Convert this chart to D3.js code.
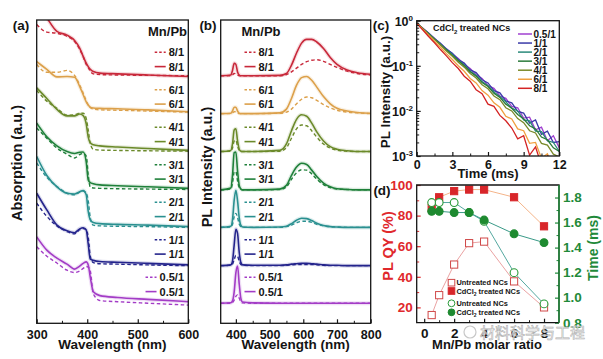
<!DOCTYPE html>
<html>
<head>
<meta charset="utf-8">
<script src="https://cdn.jsdelivr.net/npm/d3@7/dist/d3.min.js"></script>
<style>
body { margin: 0; background: #fff; }
svg { display: block; }
</style>
</head>
<body>
<script>
// ---- data ----
var ratios = ['0.5/1', '1/1', '2/1', '3/1', '4/1', '6/1', '8/1'];
var colors = ['#a33cc6', '#24248c', '#2a9090', '#1f803a', '#6b8a2a', '#dca04a', '#c8283a'];
var decayColors = ['#a040d0', '#3a3aa8', '#2a8a7a', '#2a7a3a', '#7a8a2a', '#f0a040', '#d42424'];

// (a) absorption, a.u. above each curve's own baseline
var absWl = [300, 320, 340, 360, 375, 385, 392, 398, 402, 406, 412, 425, 460, 520, 600];
var absTreated = [
  [1.71, 1.36, 1.15, 0.99, 0.86, 0.94, 1.01, 1.05, 0.97, 0.65, 0.26, 0.16, 0.11, 0.06, 0],
  [1.89, 1.45, 1.05, 0.90, 0.85, 0.95, 0.98, 0.92, 0.55, 0.15, 0.12, 0.09, 0.07, 0.04, 0],
  [1.85, 1.35, 1.05, 0.88, 0.86, 0.92, 0.95, 0.84, 0.40, 0.18, 0.11, 0.08, 0.06, 0.04, 0],
  [1.72, 1.36, 1.12, 0.97, 0.92, 0.95, 0.96, 0.70, 0.22, 0.15, 0.12, 0.09, 0.07, 0.04, 0],
  [1.65, 1.37, 1.08, 0.91, 0.91, 0.96, 0.92, 0.70, 0.35, 0.20, 0.15, 0.12, 0.09, 0.05, 0],
  [1.32, 1.12, 0.92, 0.93, 0.91, 0.67, 0.45, 0.26, 0.18, 0.12, 0.10, 0.09, 0.08, 0.05, 0],
  [1.95, 1.55, 1.19, 1.09, 0.95, 0.75, 0.53, 0.35, 0.26, 0.19, 0.13, 0.09, 0.07, 0.04, 0]
];
var absUntreated = [
  [1.54, 1.29, 1.11, 0.92, 0.86, 0.90, 0.97, 1.02, 1.00, 0.90, 0.30, 0.12, 0.09, 0.05, 0],
  [1.65, 1.30, 1.05, 0.90, 0.84, 0.95, 0.98, 0.95, 0.75, 0.25, 0.08, 0.05, 0.04, 0.02, 0],
  [1.70, 1.32, 1.08, 0.90, 0.86, 0.93, 0.96, 0.90, 0.70, 0.25, 0.06, 0.04, 0.03, 0.02, 0],
  [1.62, 1.35, 1.09, 0.93, 0.83, 0.92, 0.95, 0.88, 0.38, 0.06, 0.04, 0.03, 0.02, 0.01, 0],
  [1.60, 1.32, 1.13, 0.95, 0.96, 1.00, 1.00, 0.86, 0.55, 0.20, 0.05, 0.03, 0.02, 0.01, 0],
  [1.26, 1.05, 1.05, 1.10, 0.97, 0.72, 0.50, 0.30, 0.18, 0.12, 0.08, 0.06, 0.05, 0.03, 0],
  [1.35, 1.15, 1.12, 1.04, 0.90, 0.70, 0.50, 0.30, 0.22, 0.12, 0.05, 0.03, 0.02, 0.01, 0]
];
var absOffsetTreated = [0.57, 1.54, 2.55, 3.56, 4.56, 5.58, 6.51];
var absOffsetUntreated = [0.48, 1.52, 2.53, 3.53, 4.54, 5.57, 6.53];

// (b) PL spectra
var plWl = [355, 385, 390, 395, 400, 405, 410, 415, 420, 450, 530, 550, 565, 580, 595, 610, 625, 640, 660, 680, 700, 730, 760, 800];
var plTreated = [
  [0, 0.01, 0.06, 0.30, 0.80, 0.98, 0.50, 0.12, 0.03, 0.01, 0, 0, 0, 0, 0, 0, 0, 0, 0, 0, 0, 0, 0, 0],
  [0, 0.02, 0.12, 0.55, 0.96, 0.85, 0.35, 0.08, 0.02, 0.01, 0.01, 0.02, 0.04, 0.05, 0.06, 0.06, 0.05, 0.04, 0.02, 0.01, 0.01, 0, 0, 0],
  [0, 0.03, 0.20, 0.72, 0.98, 0.70, 0.25, 0.05, 0.01, 0, 0.01, 0.03, 0.10, 0.19, 0.24, 0.23, 0.18, 0.11, 0.05, 0.02, 0.01, 0, 0, 0],
  [0, 0.05, 0.38, 0.98, 1.00, 0.50, 0.12, 0.02, 0, 0, 0.02, 0.12, 0.38, 0.60, 0.70, 0.67, 0.52, 0.35, 0.18, 0.08, 0.03, 0.01, 0, 0],
  [0, 0.03, 0.20, 0.57, 0.60, 0.28, 0.06, 0.01, 0, 0, 0.03, 0.20, 0.55, 0.85, 0.97, 0.93, 0.75, 0.52, 0.28, 0.13, 0.06, 0.02, 0, 0],
  [0, 0.01, 0.07, 0.17, 0.17, 0.07, 0.01, 0, 0, 0, 0.02, 0.12, 0.40, 0.75, 0.95, 0.98, 0.88, 0.70, 0.45, 0.26, 0.14, 0.07, 0.03, 0.01],
  [0, 0.02, 0.14, 0.33, 0.30, 0.10, 0.02, 0, 0, 0, 0.01, 0.06, 0.28, 0.60, 0.86, 0.96, 0.96, 0.89, 0.72, 0.48, 0.30, 0.15, 0.08, 0.04]
];
var plUntreated = [
  [0, 0, 0.02, 0.08, 0.18, 0.22, 0.13, 0.04, 0.01, 0, 0, 0, 0, 0, 0, 0, 0, 0, 0, 0, 0, 0, 0, 0],
  [0, 0.01, 0.04, 0.16, 0.27, 0.25, 0.11, 0.03, 0.01, 0, 0, 0.01, 0.02, 0.03, 0.03, 0.03, 0.03, 0.02, 0.01, 0, 0, 0, 0, 0],
  [0, 0.01, 0.08, 0.28, 0.37, 0.26, 0.09, 0.02, 0, 0, 0, 0.02, 0.06, 0.12, 0.16, 0.16, 0.13, 0.08, 0.04, 0.02, 0.01, 0, 0, 0],
  [0, 0.02, 0.18, 0.47, 0.48, 0.24, 0.06, 0.01, 0, 0, 0.01, 0.08, 0.28, 0.45, 0.53, 0.52, 0.42, 0.28, 0.14, 0.06, 0.02, 0.01, 0, 0],
  [0, 0.01, 0.10, 0.28, 0.30, 0.14, 0.03, 0, 0, 0, 0.01, 0.10, 0.35, 0.60, 0.70, 0.68, 0.55, 0.38, 0.20, 0.09, 0.04, 0.01, 0, 0],
  [0, 0, 0.02, 0.05, 0.05, 0.02, 0, 0, 0, 0, 0.01, 0.04, 0.12, 0.26, 0.38, 0.44, 0.42, 0.35, 0.24, 0.15, 0.09, 0.04, 0.02, 0],
  [0, 0, 0.02, 0.06, 0.05, 0.02, 0, 0, 0, 0, 0, 0.03, 0.10, 0.20, 0.30, 0.37, 0.41, 0.42, 0.38, 0.30, 0.22, 0.12, 0.06, 0.02]
];
var plOffset = [0.53, 1.52, 2.53, 3.52, 4.53, 5.53, 6.53];

// (c) PL decay, log10 of intensity
var decayTime = [0, 0.5, 1, 1.5, 2, 2.5, 3, 3.5, 4, 4.5, 5, 5.5, 6, 6.5, 7, 7.5, 8, 8.5, 9, 9.5, 10, 10.5, 11, 11.5, 12];
var decayLog = [
  [-0.05, -0.16, -0.28, -0.39, -0.51, -0.62, -0.74, -0.84, -0.97, -1.06, -1.20, -1.28, -1.44, -1.50, -1.67, -1.72, -1.90, -1.93, -2.16, -2.14, -2.42, -2.36, -2.66, -2.55, -2.82],
  [-0.05, -0.17, -0.27, -0.40, -0.50, -0.63, -0.72, -0.86, -0.94, -1.09, -1.15, -1.31, -1.38, -1.55, -1.60, -1.78, -1.82, -2.01, -2.05, -2.27, -2.20, -2.52, -2.45, -2.70, -2.68],
  [-0.05, -0.17, -0.29, -0.40, -0.52, -0.64, -0.75, -0.88, -0.98, -1.12, -1.21, -1.35, -1.44, -1.58, -1.68, -1.80, -1.94, -2.00, -2.20, -2.22, -2.45, -2.46, -2.66, -2.70, -2.90],
  [-0.05, -0.17, -0.29, -0.41, -0.53, -0.65, -0.77, -0.89, -1.00, -1.13, -1.23, -1.37, -1.46, -1.61, -1.70, -1.85, -1.94, -2.08, -2.18, -2.33, -2.40, -2.58, -2.64, -2.82, -2.90],
  [-0.05, -0.17, -0.30, -0.42, -0.54, -0.67, -0.79, -0.92, -1.03, -1.17, -1.27, -1.42, -1.51, -1.67, -1.75, -1.93, -2.00, -2.17, -2.26, -2.44, -2.49, -2.72, -2.76, -2.96, -3.02],
  [-0.05, -0.19, -0.32, -0.46, -0.59, -0.73, -0.86, -1.00, -1.12, -1.28, -1.38, -1.55, -1.65, -1.82, -1.92, -2.12, -2.18, -2.40, -2.44, -2.72, -2.70, -3.05, -2.95, -3.25, -3.15],
  [-0.06, -0.20, -0.35, -0.49, -0.64, -0.78, -0.93, -1.06, -1.23, -1.34, -1.53, -1.62, -1.85, -1.90, -2.10, -2.22, -2.38, -2.62, -2.55, -2.98, -2.80, -3.20, -3.00, -3.30, -3.10]
];

// (d) QY and lifetime vs Mn/Pb
var molarRatio = [0.5, 1, 2, 3, 4, 6, 8];
var qyUntreated = [15, 28, 48, 62, 63, 37, 20];
var qyTreated = [85, 92, 96, 97, 97, 92, 73];
var tauUntreated = [1.76, 1.76, 1.76, 1.68, 1.61, 1.20, 0.95];
var tauTreated = [1.69, 1.69, 1.68, 1.68, 1.62, 1.51, 1.44];

// ---- drawing ----
var FONT = '"Liberation Sans", Arial, Helvetica, sans-serif',
    INK = '#141414',
    RED = '#e0282c',
    GREEN = '#1f8a3a';

var svg = d3.select('body').append('svg')
    .attr('width', 603).attr('height', 359)
    .style('font-family', FONT).style('font-weight', 'bold');
var defs = svg.append('defs');

function clipTo(id, x0, y0, x1, y1){
    defs.append('clipPath').attr('id', id).append('rect')
        .attr('x', x0).attr('y', y0).attr('width', x1 - x0).attr('height', y1 - y0);
    return 'url(#' + id + ')';
}

function box(x0, y0, x1, y1){
    svg.append('rect').attr('x', x0).attr('y', y0)
        .attr('width', x1 - x0).attr('height', y1 - y0)
        .attr('fill', 'none').attr('stroke', INK).attr('stroke-width', 1.3);
}

// inward ticks: major with labels, minor bare
function axis(gen, scale, at, major, minor, opt){
    opt = opt || {};
    var g = svg.append('g').attr('transform', at).style('color', opt.color || INK);
    g.append('g').call(gen(scale).tickValues(major).tickSize(-4)
            .tickPadding(opt.pad || 6).tickFormat(opt.format || null))
        .call(function(a){
            a.select('.domain').remove();
            a.selectAll('line').attr('stroke-width', 1.2);
            a.selectAll('text').style('font-family', FONT).style('font-weight', 'bold')
                .style('font-size', (opt.size || 12.5) + 'px').attr('fill', opt.color || INK);
            if(opt.noText) a.selectAll('text').remove();
        });
    if(minor){
        g.append('g').call(gen(scale).tickValues(minor).tickSize(-2.5).tickFormat(''))
            .call(function(a){ a.select('.domain').remove(); a.selectAll('line').attr('stroke-width', 1); });
    }
    return g;
}

function label(txt, x, y, size, opt){
    opt = opt || {};
    var t = svg.append('text').attr('x', x).attr('y', y)
        .attr('font-size', size).attr('fill', opt.color || INK)
        .attr('text-anchor', opt.anchor || 'middle').text(txt);
    if(opt.rotate) t.attr('transform', 'rotate(-90,' + x + ',' + y + ')');
    return t;
}

function stackPanel(xDomain, left, right, wl, treated, untreated, offT, offU, id){
    var x = d3.scaleLinear().domain(xDomain).range([left, right]),
        y = d3.scaleLinear().domain([0, 8]).range([323.3, 20]),
        clip = clipTo(id, left, 20, right, 323.3);
    var g = svg.append('g').attr('clip-path', clip);

    function curve(vals, off){
        return d3.line().curve(d3.curveMonotoneX)
            .x(function(d, i){ return x(wl[i]); })
            .y(function(d){ return y(d + off); })(vals);
    }
    ratios.forEach(function(r, i){
        g.append('path').attr('d', curve(treated[i], offT[i]))
            .attr('fill', 'none').attr('stroke', colors[i])
            .attr('stroke-width', 4).attr('stroke-opacity', 0.16);
        g.append('path').attr('d', curve(untreated[i], offU[i]))
            .attr('fill', 'none').attr('stroke', colors[i])
            .attr('stroke-width', 1.4).attr('stroke-dasharray', '3.5,2.5');
        g.append('path').attr('d', curve(treated[i], offT[i]))
            .attr('fill', 'none').attr('stroke', colors[i]).attr('stroke-width', 1.6);
    });
    return x;
}

// legend rows shared by (a) and (b), top entry is 8/1
function legendRows(xText, anchor){
    ratios.slice().reverse().forEach(function(r, k){
        var i = ratios.length - 1 - k,
            yd = 52.3 + k * 37.5;
        [yd, yd + 14.3].forEach(function(yy, j){
            var t = label(r, xText, yy + 4, 11, {anchor: anchor}),
                w = t.node().getComputedTextLength(),
                x0 = anchor === 'end' ? xText - w : xText;
            svg.append('line').attr('x1', x0 - 14).attr('x2', x0 - 3)
                .attr('y1', yy).attr('y2', yy)
                .attr('stroke', colors[i]).attr('stroke-width', j ? 1.6 : 1.4)
                .attr('stroke-dasharray', j ? null : '2.5,2');
        });
    });
}

// (a)
var xa = stackPanel([300, 600], 36.7, 188.3, absWl, absTreated, absUntreated,
    absOffsetTreated, absOffsetUntreated, 'clipA');
axis(d3.axisBottom, xa, 'translate(0,323.3)', [300, 400, 500, 600], [350, 450, 550], {pad: 7});
box(36.7, 20, 188.3, 323.3);
label('(a)', 21, 30, 13.5);
label('Mn/Pb', 187, 36, 13, {anchor: 'end'});
legendRows(184, 'end');
label('Wavelength (nm)', 112.5, 349, 13.5);
label('Absorption (a.u.)', 22, 163, 14.5, {rotate: true});

// (b)
var xb = stackPanel([355, 800], 220.7, 370.7, plWl, plTreated, plUntreated,
    plOffset, plOffset, 'clipB');
axis(d3.axisBottom, xb, 'translate(0,323.3)', [400, 500, 600, 700, 800], [450, 550, 650, 750], {pad: 7});
box(220.7, 20, 370.7, 323.3);
label('(b)', 208, 30, 13.5);
label('Mn/Pb', 241.5, 36, 13, {anchor: 'start'});
legendRows(258.5, 'start');
label('Wavelength (nm)', 295.7, 349, 13.5);
label('PL Intensity (a.u.)', 211.5, 167, 14.5, {rotate: true});

// (c)
var xc = d3.scaleLinear().domain([0, 12]).range([416.7, 559.3]),
    yc = d3.scaleLog().domain([1e-3, 1]).range([156, 20.7]);
var gc = svg.append('g').attr('clip-path', clipTo('clipC', 416.7, 20.7, 559.3, 156));
decayLog.forEach(function(series, i){
    gc.append('path')
        .attr('d', d3.line()
            .x(function(d, k){ return xc(decayTime[k]); })
            .y(function(d){ return yc(Math.pow(10, d)); })(series))
        .attr('fill', 'none').attr('stroke', decayColors[i]).attr('stroke-width', 1.3);
});
var minorLog = [];
[1e-3, 1e-2, 1e-1].forEach(function(dec){
    for(var m = 2; m < 10; m++) minorLog.push(dec * m);
});
axis(d3.axisBottom, xc, 'translate(0,156)', [0, 3, 6, 9, 12], [1.5, 4.5, 7.5, 10.5], {pad: 4});
axis(d3.axisLeft, yc, 'translate(416.7,0)', [1e-3, 1e-2, 1e-1, 1], minorLog, {noText: true});
[0, -1, -2, -3].forEach(function(e){
    var t = svg.append('text').attr('x', 413).attr('y', yc(Math.pow(10, e)) + 5)
        .attr('text-anchor', 'end').attr('font-size', 12.5).attr('fill', INK);
    t.append('tspan').text('10');
    t.append('tspan').attr('dy', -5).attr('font-size', 8).text(String(e));
});
box(416.7, 20.7, 559.3, 156);
label('(c)', 381, 30, 13.5);
label('Time (ms)', 488, 178, 13);
label('PL Intensity (a.u.)', 390, 92, 13.5, {rotate: true});
var cTitle = svg.append('text').attr('x', 433).attr('y', 31).attr('font-size', 9).attr('fill', INK);
cTitle.append('tspan').text('CdCl');
cTitle.append('tspan').attr('dy', 2.5).attr('font-size', 6).text('2');
cTitle.append('tspan').attr('dy', -2.5).text(' treated NCs');
ratios.forEach(function(r, i){
    var yy = 34 + i * 9.05;
    svg.append('line').attr('x1', 518).attr('x2', 532).attr('y1', yy).attr('y2', yy)
        .attr('stroke', decayColors[i]).attr('stroke-width', 1.5);
    label(r, 533.5, yy + 3.6, 10, {anchor: 'start'});
});

// (d)
var xd = d3.scaleLinear().domain([-0.5, 9]).range([416.7, 559]),
    yqy = d3.scaleLinear().domain([10, 100]).range([322.7, 185]),
    ytau = d3.scaleLinear().domain([0.8, 1.9]).range([322.7, 185]);
var gd = svg.append('g').attr('clip-path', clipTo('clipD', 416.7, 185, 559, 322.7));

function series(vals, yScale, lineColor){
    gd.append('path')
        .attr('d', d3.line().x(function(d, k){ return xd(molarRatio[k]); })
            .y(function(d){ return yScale(d); })(vals))
        .attr('fill', 'none').attr('stroke', lineColor).attr('stroke-width', 1);
}
series(qyUntreated, yqy, '#eaa2a2');
series(qyTreated, yqy, '#f4b489');
series(tauUntreated, ytau, '#55a8a0');
series(tauTreated, ytau, '#3a9a88');

function squares(vals, filled){
    gd.selectAll(null).data(vals).enter().append('rect')
        .attr('x', function(d, k){ return xd(molarRatio[k]) - 3.6; })
        .attr('y', function(d){ return yqy(d) - 3.6; })
        .attr('width', 7.2).attr('height', 7.2)
        .attr('fill', filled ? '#d8262a' : '#fff')
        .attr('stroke', filled ? '#d8262a' : '#d04848').attr('stroke-width', 1);
}
function circles(vals, filled){
    gd.selectAll(null).data(vals).enter().append('circle')
        .attr('cx', function(d, k){ return xd(molarRatio[k]); })
        .attr('cy', function(d){ return ytau(d); })
        .attr('r', 3.9)
        .attr('fill', filled ? '#1e8a30' : '#fff')
        .attr('stroke', filled ? '#1e8a30' : '#2a9a3a').attr('stroke-width', 1.1);
}
squares(qyUntreated, false);
squares(qyTreated, true);
circles(tauUntreated, false);
circles(tauTreated, true);

axis(d3.axisBottom, xd, 'translate(0,322.7)', [0, 2, 4, 6, 8], [1, 3, 5, 7], {pad: 5.5, size: 13.5});
axis(d3.axisLeft, yqy, 'translate(416.7,0)', [20, 40, 60, 80, 100], [30, 50, 70, 90],
    {pad: 4, size: 13.5, color: RED});
axis(d3.axisRight, ytau, 'translate(559,0)', [0.8, 1.0, 1.2, 1.4, 1.6, 1.8], [0.9, 1.1, 1.3, 1.5, 1.7],
    {pad: 4, size: 13.5, color: GREEN, format: d3.format('.1f')});
svg.append('path').attr('d', 'M559,322.7V185H416.7V322.7H559')
    .attr('fill', 'none').attr('stroke', INK).attr('stroke-width', 1.3);
svg.append('line').attr('x1', 559).attr('x2', 559).attr('y1', 185).attr('y2', 322.7)
    .attr('stroke', GREEN).attr('stroke-width', 1.5);
label('(d)', 382, 195, 13.5);
label('Mn/Pb molar ratio', 487, 349, 13);
label('PL QY (%)', 393, 246, 14.5, {rotate: true, color: RED});
label('Time (ms)', 598, 248, 14, {rotate: true, color: GREEN});

// legend of (d)
var legY = [282.7, 291, 303.3, 312.3],
    legText = ['Untreated NCs', 'CdCl2 treated NCs', 'Untreated NCs', 'CdCl2 treated NCs'];
legY.forEach(function(yy, k){
    if(k < 2){
        svg.append('rect').attr('x', 448.2).attr('y', yy - 3.3).attr('width', 6.6).attr('height', 6.6)
            .attr('fill', k ? '#d8262a' : '#fff').attr('stroke', k ? '#d8262a' : '#d04848');
    } else {
        svg.append('circle').attr('cx', 451.5).attr('cy', yy).attr('r', 3.4)
            .attr('fill', k === 3 ? '#1e8a30' : '#fff').attr('stroke', k === 3 ? '#1e8a30' : '#2a9a3a');
    }
    var t = svg.append('text').attr('x', 456.5).attr('y', yy + 2.6)
        .attr('font-size', 7.4).attr('fill', INK);
    if(k % 2){
        t.append('tspan').text('CdCl');
        t.append('tspan').attr('dy', 2).attr('font-size', 5).text('2');
        t.append('tspan').attr('dy', -2).text(' treated NCs');
    } else {
        t.text(legText[k]);
    }
});

// watermark over (d)
svg.append('circle').attr('cx', 470).attr('cy', 332).attr('r', 6)
    .attr('fill', 'none').attr('stroke', '#c8c8c8').attr('stroke-width', 1.2);
svg.append('text').attr('x', 480).attr('y', 338).attr('font-size', 15)
    .style('font-family', '"Noto Sans CJK SC", sans-serif').style('font-weight', 'normal')
    .attr('fill', '#ffffff').attr('fill-opacity', 0.75)
    .attr('stroke', '#b0b0b0').attr('stroke-width', 0.6)
    .text('材料科学与工程');
</script>
</body>
</html>
